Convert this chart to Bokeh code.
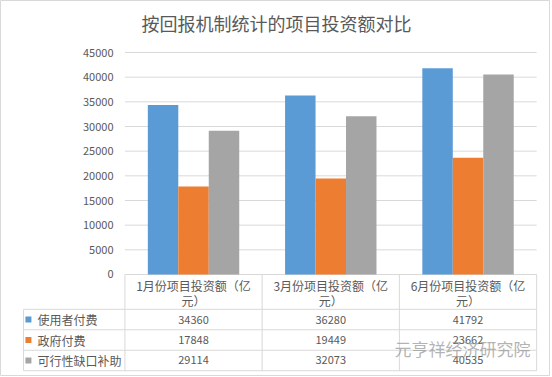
import numpy as np
from bokeh.plotting import figure
from bokeh.models import Range1d
from bokeh.core.properties import value
from bokeh.embed import file_html
from bokeh.resources import INLINE

# ---- data ----
categories = ["1月份项目投资额（亿元）", "3月份项目投资额（亿元）", "6月份项目投资额（亿元）"]
series_names = ["使用者付费", "政府付费", "可行性缺口补助"]
user_pay = [34360, 36280, 41792]
gov_pay = [17848, 19449, 23662]
gap_subsidy = [29114, 32073, 40535]
y_ticks = [0, 5000, 10000, 15000, 20000, 25000, 30000, 35000, 40000, 45000]
colors = ["#5B9BD5", "#ED7D31", "#A5A5A5"]
title_text = "按回报机制统计的项目投资额对比"
watermark = "元亨祥经济研究院"

series = [user_pay, gov_pay, gap_subsidy]
FONT = "Noto Sans CJK SC"
TXT = "#595959"
LINE = "#d9d9d9"

n = len(categories)
centers = np.arange(n) + 0.5
bw = 0.222
x0 = -0.739          # left edge of the data-table label column (in category units)
r = 4150             # data-table row height in y units
header_h = 1.7 * r

p = figure(width=550, height=376, x_range=Range1d(-0.9064, 3.1009),
           y_range=Range1d(-20676, 55541),
           output_backend="svg", toolbar_location=None, x_axis_location=None,
           y_axis_location=None, min_border_left=0, min_border_right=0,
           min_border_top=0, min_border_bottom=0)
p.outline_line_color = LINE
p.grid.visible = False

# title
p.text(x=[1.105], y=[51081], text=[title_text], text_align="center", text_baseline="middle",
       text_font=value(FONT), text_font_size="18px", text_color=TXT)

# gridlines and value-axis labels
p.segment(x0=[0] * len(y_ticks), y0=y_ticks, x1=[n] * len(y_ticks), y1=y_ticks,
          line_color=LINE, line_width=1)
p.text(x=[-0.083] * len(y_ticks), y=y_ticks, text=[str(t) for t in y_ticks],
       text_align="right", text_baseline="middle", text_font=value(FONT),
       text_font_size="11px", text_color=TXT)

# bars
for i, (vals, col) in enumerate(zip(series, colors)):
    p.vbar(x=centers + (i - 1) * bw, top=vals, width=bw, bottom=0,
           fill_color=col, line_color=None)

# ---- data table ----
row_y = [-(header_h + k * r) for k in range(len(series) + 1)]
p.segment(x0=[x0] * len(row_y), y0=row_y, x1=[n] * len(row_y), y1=row_y, line_color=LINE)
p.segment(x0=[x0], y0=[row_y[0]], x1=[x0], y1=[row_y[-1]], line_color=LINE)
p.segment(x0=list(range(n + 1)), y0=[0] * (n + 1), x1=list(range(n + 1)),
          y1=[row_y[-1]] * (n + 1), line_color=LINE)

line1 = [c[:-2] for c in categories]
line2 = [c[-2:] for c in categories]
p.text(x=centers, y=[-0.537 * r] * n, text=line1, text_align="center", text_baseline="middle",
       text_font=value(FONT), text_font_size="12px", text_color=TXT)
p.text(x=centers, y=[-1.27 * r] * n, text=line2, text_align="center", text_baseline="middle",
       text_font=value(FONT), text_font_size="12px", text_color=TXT)

row_centers = [-(header_h + (k + 0.5) * r) for k in range(len(series))]
p.scatter(x=[x0 + 0.036] * len(series), y=row_centers, marker="square", size=6,
          fill_color=colors, line_color=None)
p.text(x=[x0 + 0.102] * len(series), y=row_centers, text=series_names, text_align="left",
       text_baseline="middle", text_font=value(FONT), text_font_size="12px", text_color=TXT)

for k, vals in enumerate(series):
    p.text(x=centers, y=[row_centers[k]] * n, text=[str(v) for v in vals],
           text_align="center", text_baseline="middle", text_font=value(FONT),
           text_font_size="11px", text_color=TXT)

p.text(x=[1.964], y=[-15000], text=[watermark], text_align="left", text_baseline="middle",
       text_font=value(FONT), text_font_size="17px", text_color="#9a9a9a", text_alpha=0.75)

open("out.html", "w").write(file_html(p, INLINE))
